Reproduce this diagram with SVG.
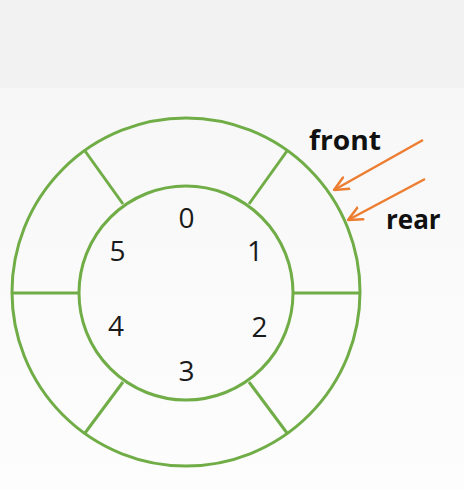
<svg xmlns="http://www.w3.org/2000/svg" width="464" height="489" viewBox="0 0 464 489">
<defs>
<linearGradient id="bg" x1="0" y1="0" x2="0" y2="1">
<stop offset="0" stop-color="#f6f6f6"/>
<stop offset="1" stop-color="#fdfdfd"/>
</linearGradient>
<marker id="ah" viewBox="0 0 16 16" refX="15" refY="8" markerWidth="16" markerHeight="16" markerUnits="userSpaceOnUse" orient="auto">
<polyline points="1,1.5 15,8 1,14.5" fill="none" stroke="#ed7d31" stroke-width="2.5" stroke-linecap="round" stroke-linejoin="round"/>
</marker>
<style>
.ring{fill:none;stroke:#70ad47;stroke-width:3}
.div{stroke:#70ad47;stroke-width:3}
.num{font-family:"Open Sans","Noto Sans",sans-serif;font-size:28px;fill:#1a1a1a;text-anchor:middle}
.lbl{font-family:"Open Sans","Noto Sans",sans-serif;font-size:26px;font-weight:bold;fill:#111}
.arr{stroke:#ed7d31;stroke-width:2.5;fill:none;marker-end:url(#ah)}
</style>
</defs>
<rect x="0" y="0" width="464" height="489" fill="url(#bg)"/>
<rect x="0" y="0" width="464" height="88" fill="#f2f2f2"/>
<g id="ring">
<circle class="ring" cx="186" cy="292" r="174"/>
<circle class="ring" cx="186" cy="293" r="107"/>
<line class="div" x1="12" y1="293" x2="79" y2="293"/>
<line class="div" x1="293" y1="293" x2="360" y2="293"/>
<line class="div" x1="85" y1="151" x2="123" y2="204"/>
<line class="div" x1="287" y1="151" x2="249" y2="204"/>
<line class="div" x1="85" y1="433" x2="123" y2="382"/>
<line class="div" x1="287" y1="433" x2="249" y2="382"/>
</g>
<g id="slot0"><text class="num" x="186.5" y="228">0</text></g>
<g id="slot1"><text class="num" x="255" y="261">1</text></g>
<g id="slot2"><text class="num" x="259.5" y="337">2</text></g>
<g id="slot3"><text class="num" x="186.5" y="381">3</text></g>
<g id="slot4"><text class="num" x="116" y="336">4</text></g>
<g id="slot5"><text class="num" x="117.5" y="261">5</text></g>
<g id="front"><text class="lbl" x="309" y="150" textLength="72" lengthAdjust="spacingAndGlyphs">front</text></g>
<g id="rear"><text class="lbl" x="386" y="229">rear</text></g>
<g id="connectors">
<line class="arr" x1="423" y1="140" x2="334" y2="190"/>
<line class="arr" x1="425" y1="179" x2="348" y2="220"/>
</g>
</svg>
